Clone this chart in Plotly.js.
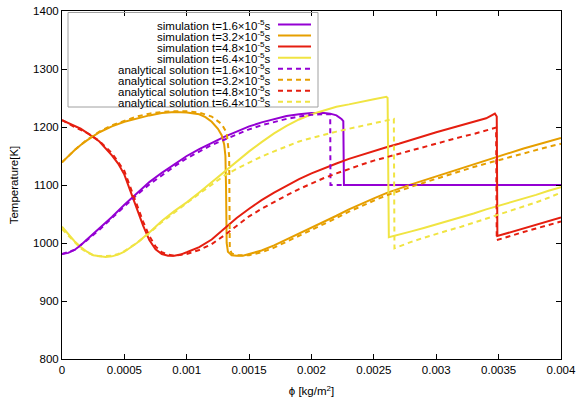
<!DOCTYPE html>
<html><head><meta charset="utf-8">
<script src="https://cdn.plot.ly/plotly-3.0.1.min.js"></script>
<style>body{margin:0;background:#fff}</style>
</head><body><div id="chart" style="width:581px;height:407px"></div>
<script>
// ---- data (phi in kg/m^2, temperature in K) ----
const seriesNames = [
  "simulation t=1.6×10<sup>-5</sup>s",
  "simulation t=3.2×10<sup>-5</sup>s",
  "simulation t=4.8×10<sup>-5</sup>s",
  "simulation t=6.4×10<sup>-5</sup>s",
  "analytical solution t=1.6×10<sup>-5</sup>s",
  "analytical solution t=3.2×10<sup>-5</sup>s",
  "analytical solution t=4.8×10<sup>-5</sup>s",
  "analytical solution t=6.4×10<sup>-5</sup>s"
];
const seriesColors = ["#9400d3", "#e69f00", "#e51e10", "#f0e442", "#9400d3", "#e69f00", "#e51e10", "#f0e442"];

const simX1 = [0,0.00005,0.0001,0.00015,0.0002,0.0003,0.0004,0.0005,0.0006,0.0007,0.0008,0.0009,0.001,0.0011,0.0012,0.0013,0.0014,0.0015,0.0016,0.0017,0.0018,0.0019,0.002,0.0021,0.00215,0.0022,0.00224,0.002255,0.00226,0.004];
const simT1 = [981,983,988,996,1006,1025,1045,1066,1086,1105,1121,1136,1150,1162,1173,1183,1192,1201,1208,1214,1219,1222,1224,1224,1223,1220,1214,1210,1100,1100];

const simX2 = [0,0.00005,0.0001,0.00015,0.0002,0.0003,0.0004,0.0005,0.0006,0.0007,0.0008,0.0009,0.001,0.0011,0.00115,0.0012,0.00125,0.00128,0.0013,0.00131,0.001315,0.00132,0.00133,0.00136,0.0014,0.00145,0.0015,0.0016,0.0017,0.0018,0.0019,0.002,0.0021,0.0022,0.0023,0.0024,0.0025,0.0026,0.0027,0.0028,0.0029,0.003,0.0031,0.0032,0.0033,0.0034,0.0035,0.0036,0.0037,0.0038,0.0039,0.004];
const simT2 = [1139,1150,1160,1169,1177,1191,1201,1209,1215,1220,1224,1226,1225,1222,1217,1209,1197,1186,1170,1150,1095,1000,985,979,978,978,981,987,996,1006,1016,1026,1037,1047,1058,1068,1077,1086,1094,1101,1108,1115,1122,1129,1136,1143,1150,1157,1163,1169,1175,1181];

const simX3 = [0,0.00005,0.0001,0.00015,0.0002,0.0003,0.0004,0.00045,0.0005,0.00055,0.0006,0.00065,0.0007,0.00075,0.0008,0.00085,0.0009,0.00095,0.001,0.0011,0.0012,0.0013,0.0014,0.0015,0.0016,0.0017,0.0018,0.0019,0.002,0.0021,0.0022,0.0023,0.0024,0.0025,0.0026,0.0027,0.0028,0.0029,0.003,0.0031,0.0032,0.0033,0.0034,0.00347,0.003485,0.00349,0.0036,0.0037,0.0038,0.0039,0.004];
const simT3 = [1212,1207,1202,1197,1190,1175,1151,1137,1118,1088,1058,1030,1005,989,981,978,978,980,984,993,1006,1025,1043,1059,1074,1087,1099,1110,1120,1129,1137,1145,1152,1159,1165,1171,1178,1184,1191,1197,1203,1209,1215,1223,1218,1012,1019,1025,1031,1037,1044];

const simX4 = [0,0.00005,0.0001,0.00015,0.0002,0.00025,0.0003,0.00035,0.0004,0.00045,0.0005,0.0006,0.0007,0.0008,0.0009,0.001,0.0011,0.0012,0.0013,0.0014,0.0015,0.0016,0.0017,0.0018,0.0019,0.002,0.0021,0.0022,0.0023,0.0024,0.0025,0.0026,0.00261,0.00262,0.0027,0.0028,0.0029,0.003,0.0031,0.0032,0.0033,0.0034,0.0035,0.0036,0.0037,0.0038,0.0039,0.004];
const simT4 = [1028,1016,1003,993,985,979,977,976,977,980,985,1000,1018,1038,1055,1070,1087,1105,1123,1141,1158,1174,1189,1202,1213,1222,1229,1235,1239,1244,1248,1252,1250,1010,1014,1020,1026,1032,1038,1045,1051,1058,1064,1071,1077,1083,1090,1096];

const anaX1 = [0,0.0001,0.0002,0.0003,0.0004,0.0005,0.0006,0.0007,0.0008,0.0009,0.001,0.0011,0.0012,0.0013,0.0014,0.0015,0.0016,0.0017,0.0018,0.0019,0.002,0.0021,0.00215,0.002152,0.004];
const anaT1 = [981,988,1005,1023,1043,1063,1083,1101,1117,1132,1146,1158,1169,1178,1187,1196,1203,1209,1214,1218,1221,1222,1222,1100,1100];

const anaX2 = [0,0.0001,0.0002,0.0003,0.0004,0.0005,0.0006,0.0007,0.0008,0.0009,0.001,0.0011,0.0012,0.00128,0.00132,0.00134,0.001345,0.00136,0.0014,0.0015,0.0016,0.0017,0.0018,0.0019,0.002,0.0021,0.0022,0.0023,0.0024,0.0025,0.0026,0.0027,0.0028,0.0029,0.003,0.0031,0.0032,0.0033,0.0034,0.0035,0.0036,0.0037,0.0038,0.0039,0.004];
const anaT2 = [1139,1160,1178,1192,1203,1211,1218,1223,1226,1227,1227,1225,1218,1205,1190,1150,990,982,979,979,984,992,1002,1012,1022,1033,1043,1054,1064,1073,1082,1090,1097,1104,1111,1117,1124,1131,1137,1143,1149,1155,1161,1166,1171];

const anaX3 = [0,0.0001,0.0002,0.0003,0.0004,0.0005,0.00055,0.0006,0.00065,0.0007,0.00075,0.0008,0.00085,0.0009,0.00095,0.001,0.0011,0.0012,0.0013,0.0014,0.0015,0.0016,0.0017,0.0018,0.0019,0.002,0.0021,0.0022,0.0023,0.0024,0.0025,0.0026,0.0027,0.0028,0.0029,0.003,0.0031,0.0032,0.0033,0.0034,0.00348,0.003485,0.0036,0.0037,0.0038,0.0039,0.004];
const anaT3 = [1212,1200,1190,1176,1155,1124,1095,1066,1037,1012,994,984,980,978,979,981,988,998,1013,1030,1046,1059,1071,1082,1093,1103,1112,1120,1128,1135,1142,1148,1154,1160,1166,1171,1177,1183,1188,1194,1199,1005,1013,1019,1025,1031,1037];

const anaX4 = [0,0.00005,0.0001,0.00015,0.0002,0.00025,0.0003,0.00035,0.0004,0.00045,0.0005,0.0006,0.0007,0.0008,0.0009,0.001,0.0011,0.0012,0.0013,0.0014,0.0015,0.0016,0.0017,0.0018,0.0019,0.002,0.0021,0.0022,0.0023,0.0024,0.0025,0.0026,0.00266,0.002665,0.0027,0.0028,0.0029,0.003,0.0031,0.0032,0.0033,0.0034,0.0035,0.0036,0.0037,0.0038,0.0039,0.004];
const anaT4 = [1024,1013,1001,991,984,979,977,977,978,981,986,1000,1017,1036,1053,1069,1085,1101,1116,1128,1139,1149,1158,1167,1175,1181,1187,1192,1197,1202,1206,1211,1214,991,994,1002,1009,1016,1022,1028,1035,1041,1048,1055,1062,1070,1078,1087];

const xTickVals = [0,0.0005,0.001,0.0015,0.002,0.0025,0.003,0.0035,0.004];
const xTickText = ["0","0.0005","0.001","0.0015","0.002","0.0025","0.003","0.0035","0.004"];
const yTickVals = [800,900,1000,1100,1200,1300,1400];

// ---- traces ----
const xs = [simX1, simX2, simX3, simX4, anaX1, anaX2, anaX3, anaX4];
const ys = [simT1, simT2, simT3, simT4, anaT1, anaT2, anaT3, anaT4];
const DASH = "5px,4px";
const traces = xs.map((x, i) => ({
  x: x, y: ys[i], type: "scatter", mode: "lines", name: seriesNames[i],
  line: {color: seriesColors[i], width: 2, dash: i < 4 ? "solid" : DASH},
  showlegend: false, hoverinfo: "skip"
}));

// ---- manual gnuplot-style legend (text right, sample line on the right) ----
const L = 62, R = 561, T = 11, B = 359;
const px2x = p => (p - L) / (R - L);
const py2y = p => (B - p) / (B - T);
const FAMILY = "Liberation Sans, Arial, sans-serif";
const annotations = [];
const shapes = [];
shapes.push({type: "rect", xref: "paper", yref: "paper",
  x0: px2x(68), x1: px2x(318), y0: py2y(107), y1: py2y(12.5),
  line: {color: "#a0a0a0", width: 1}, fillcolor: "rgba(255,255,255,0)", layer: "above"});
seriesNames.forEach((n, i) => {
  const yy = py2y(24.5 + i * 11.05);
  annotations.push({xref: "paper", yref: "paper", x: px2x(272), y: yy, xanchor: "right", yanchor: "middle",
    text: n, showarrow: false, borderpad: 0, font: {family: FAMILY, size: 11.5, color: "#000"}});
  shapes.push({type: "line", xref: "paper", yref: "paper", x0: px2x(278), x1: px2x(311), y0: yy, y1: yy,
    line: {color: seriesColors[i], width: 2, dash: i < 4 ? "solid" : DASH}, layer: "above"});
});

const font = {family: FAMILY, size: 11.5, color: "#000"};
const layout = {
  width: 581, height: 407,
  margin: {l: L, r: 581 - R, t: T, b: 407 - B},
  paper_bgcolor: "#fff", plot_bgcolor: "#fff",
  font: font,
  showlegend: false,
  xaxis: {
    range: [0, 0.004], tickmode: "array", tickvals: xTickVals, ticktext: xTickText,
    ticks: "inside", ticklen: 5, tickcolor: "#000", tickwidth: 1,
    showline: true, linecolor: "#000", linewidth: 1, mirror: "ticks",
    showgrid: false, zeroline: false, automargin: false,
    tickfont: font,
    title: {text: "ϕ [kg/m<sup>2</sup>]", font: font, standoff: 12}
  },
  yaxis: {
    range: [800, 1400], tickmode: "array", tickvals: yTickVals,
    ticks: "inside", ticklen: 5, tickcolor: "#000", tickwidth: 1,
    showline: true, linecolor: "#000", linewidth: 1, mirror: "ticks",
    showgrid: false, zeroline: false, automargin: false,
    tickfont: font,
    title: {text: "Temperature[K]", font: font, standoff: 12}
  },
  annotations: annotations,
  shapes: shapes
};
Plotly.newPlot("chart", traces, layout, {displayModeBar: false, staticPlot: true});
</script>
</body></html>
